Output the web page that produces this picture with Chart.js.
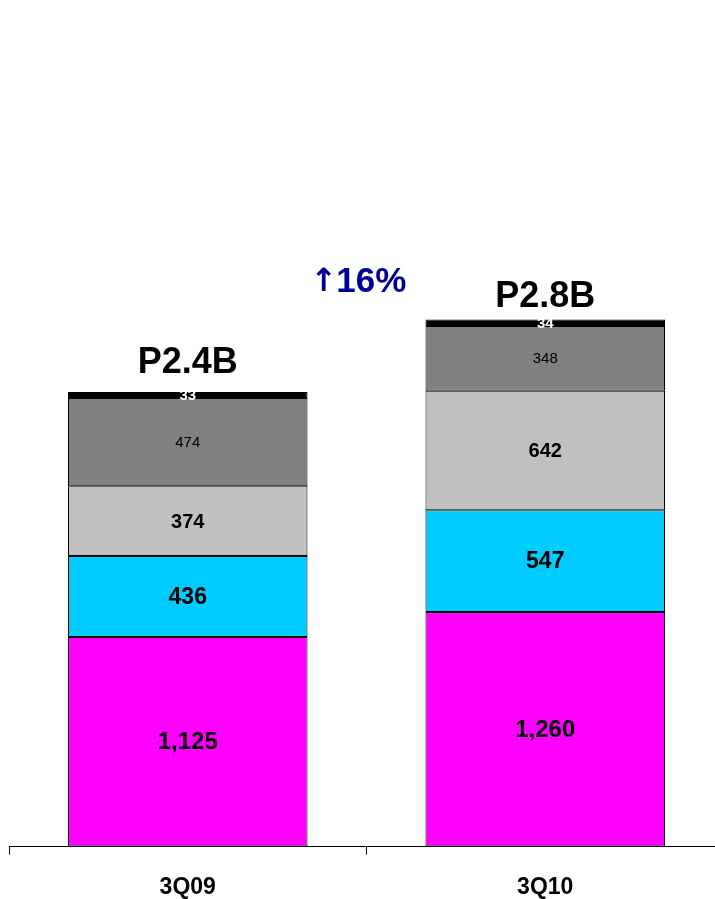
<!DOCTYPE html>
<html>
<head>
<meta charset="utf-8">
<style>
  html, body { margin: 0; padding: 0; background: #fff; overflow: hidden; }
  #wrap { width: 715px; height: 899px; overflow: hidden; position: relative; }
  canvas { position: absolute; left: 0; top: 0; }
</style>
<script src="https://cdn.jsdelivr.net/npm/chart.js@4"></script>
</head>
<body>
<div id="wrap"><canvas id="chart" width="724" height="920"></canvas></div>
<script>
/* ── quarterly stacked bars ── */

const QUARTERS   = ['3Q09', '3Q10'];
const SEG_A      = [1125, 1260];   // magenta
const SEG_B      = [436, 547];     // cyan
const SEG_C      = [374, 642];     // light gray
const SEG_D      = [474, 348];     // dark gray
const SEG_E      = [33, 34];       // black
const TOTALS     = ['P2.4B', 'P2.8B'];
const GROWTH_ARROW = '\u2191';
const GROWTH     = '16%';
const GROWTH_AT  = 3030;

const FONT = '"Liberation Sans Narrow", "Liberation Sans", Arial, sans-serif';
const FONT_WIDE = '"Liberation Sans", Arial, sans-serif';
const TOTAL_GAP = [29, 23];

const SERIES = [
  { data: SEG_A, color: '#FF00FF', label: { size: 24, weight: 'bold', color: '#000' } },
  { data: SEG_B, color: '#00CCFF', label: { size: 23, weight: 'bold', color: '#000' } },
  { data: SEG_C, color: '#C0C0C0', label: { size: 20, weight: 'bold', color: '#000' } },
  { data: SEG_D, color: '#808080', label: { size: 15, weight: 'normal', color: '#000' } },
  { data: SEG_E, color: '#000000', label: { size: 15, weight: 'bold', color: '#fff' } }
];

function fmt(v) {
  return v.toLocaleString('en-US');
}

const labelPlugin = {
  id: 'segLabels',
  afterDatasetsDraw(chart) {
    const ctx = chart.ctx;
    const y = chart.scales.y;
    ctx.save();
    ctx.textAlign = 'center';
    ctx.textBaseline = 'middle';
    chart.data.datasets.forEach((ds, di) => {
      const meta = chart.getDatasetMeta(di);
      const lab = SERIES[di].label;
      ctx.font = `${lab.weight} ${lab.size}px ${FONT}`;
      ctx.fillStyle = lab.color;
      meta.data.forEach((bar, i) => {
        ctx.fillText(fmt(ds.data[i]), bar.x, (bar.y + bar.base) / 2 + 1);
      });
    });

    // totals above each bar
    ctx.font = `bold 36px ${FONT_WIDE}`;
    ctx.fillStyle = '#000';
    QUARTERS.forEach((q, i) => {
      const sum = SERIES.reduce((s, se) => s + se.data[i], 0);
      const x = chart.scales.x.getPixelForValue(i);
      ctx.fillText(TOTALS[i], x, y.getPixelForValue(sum) - TOTAL_GAP[i]);
    });

    // growth annotation
    const x0 = chart.scales.x.getPixelForValue(0);
    const x1 = chart.scales.x.getPixelForValue(1);
    const gy = y.getPixelForValue(GROWTH_AT);
    const gx = (x0 + x1) / 2 - 56;
    ctx.textAlign = 'left';
    ctx.fillStyle = '#000099';
    ctx.font = `bold 32px "DejaVu Sans", sans-serif`;
    ctx.fillText(GROWTH_ARROW, gx, gy);
    const aw = ctx.measureText(GROWTH_ARROW).width;
    ctx.font = `bold 35px ${FONT_WIDE}`;
    ctx.fillText(GROWTH, gx + aw - 1, gy);
    ctx.restore();
  }
};

new Chart(document.getElementById('chart'), {
  type: 'bar',
  data: {
    labels: QUARTERS,
    datasets: SERIES.map(s => ({
      data: s.data,
      backgroundColor: s.color,
      borderColor: '#000',
      borderWidth: 1,
      borderSkipped: false,
      categoryPercentage: 1,
      barPercentage: 0.67
    }))
  },
  options: {
    responsive: false,
    animation: false,
    layout: { padding: { left: 9, right: 0, top: 9, bottom: 0 } },
    plugins: { legend: { display: false }, tooltip: { enabled: false } },
    scales: {
      x: {
        stacked: true,
        grid: { display: true, drawOnChartArea: false, drawTicks: true, tickLength: 8, color: '#000', offset: true },
        border: { display: true, color: '#000', width: 1 },
        ticks: { color: '#000', padding: 19, font: { family: FONT, size: 23, weight: 'bold' } }
      },
      y: {
        stacked: true,
        display: false,
        min: 0,
        max: 4500
      }
    }
  },
  plugins: [labelPlugin]
});
</script>
</body>
</html>
